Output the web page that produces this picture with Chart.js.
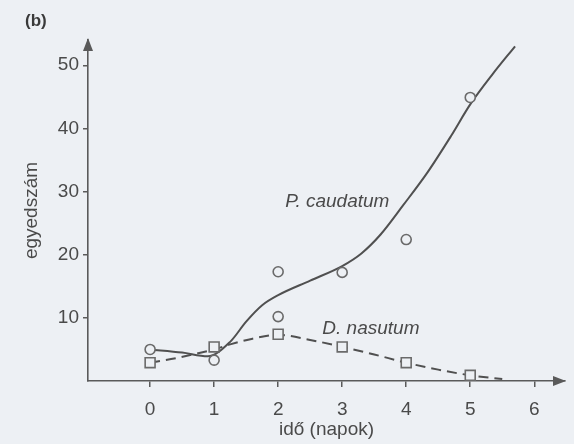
<!DOCTYPE html>
<html>
<head>
<meta charset="utf-8">
<script src="https://cdn.jsdelivr.net/npm/chart.js@4.4.1/dist/chart.umd.min.js"></script>
<style>
  html, body { margin: 0; padding: 0; background: #edf0f4; }
  #wrap { width: 574px; height: 444px; }
</style>
</head>
<body>
<div id="wrap"><canvas id="chart"></canvas></div>
<script>
// data
const xTicks = [0, 1, 2, 3, 4, 5, 6];
const yTicks = [10, 20, 30, 40, 50];

// measured points
const caudatumDay   = [0, 1, 2, 2, 3, 4, 5];
const caudatumCount = [5.0, 3.3, 17.3, 10.2, 17.2, 22.4, 44.9];
const nasutumDay    = [0, 1, 2, 3, 4, 5];
const nasutumCount  = [2.9, 5.4, 7.4, 5.4, 2.9, 0.9];

// fitted curves (traced)
const caudatumFitX = [0, 0.5, 0.9, 1.25, 1.5, 1.75, 2, 2.5, 3, 3.3, 3.6, 3.95, 4.33, 4.7, 5, 5.35, 5.7];
const caudatumFitY = [5.0, 4.5, 3.9, 6.2, 9.4, 12.0, 13.6, 15.9, 18.2, 20.2, 23.2, 27.8, 33.0, 38.8, 43.8, 48.6, 53.0];
const nasutumFitX  = [0, 0.4, 0.75, 1, 1.25, 1.6, 2, 2.5, 3, 3.5, 4, 4.5, 5, 5.5];
const nasutumFitY  = [2.9, 3.6, 4.4, 5.0, 5.8, 6.7, 7.3, 6.5, 5.4, 4.2, 2.9, 1.8, 0.9, 0.3];

// curve labels: [text, x, y]
const seriesLabels = [
  ['P. caudatum', 2.11, 28.4],
  ['D. nasutum', 2.69, 8.2],
];

const C = {
  bg:   '#edf0f4',
  line: '#505050',
  axis: '#5a5a5a',
  text: '#4a4a4a',
};
const FONT = "'Liberation Sans', Arial, sans-serif";

Chart.defaults.font.family = FONT;
Chart.defaults.color = C.text;

const pts = (xs, ys) => xs.map((x, i) => ({ x, y: ys[i] }));

// arrows, panel letter and curve labels
const extras = {
  id: 'extras',
  afterDraw(chart) {
    const { ctx, chartArea: a, scales: { x, y } } = chart;
    ctx.save();
    ctx.fillStyle = C.axis;
    // y arrow
    ctx.beginPath();
    ctx.moveTo(a.left, a.top - 2);
    ctx.lineTo(a.left - 5, a.top + 11);
    ctx.lineTo(a.left + 5, a.top + 11);
    ctx.closePath();
    ctx.fill();
    // x arrow
    ctx.beginPath();
    ctx.moveTo(a.right + 1, a.bottom);
    ctx.lineTo(a.right - 12, a.bottom - 5);
    ctx.lineTo(a.right - 12, a.bottom + 5);
    ctx.closePath();
    ctx.fill();

    ctx.fillStyle = '#3a3a3a';
    ctx.font = 'bold 17px ' + FONT;
    ctx.textBaseline = 'middle';
    ctx.textAlign = 'left';
    ctx.fillText('(b)', 25, 21);

    ctx.fillStyle = C.text;
    ctx.font = 'italic 19px ' + FONT;
    seriesLabels.forEach(([t, lx, ly]) => {
      ctx.fillText(t, x.getPixelForValue(lx), y.getPixelForValue(ly));
    });
    ctx.restore();
  }
};

new Chart(document.getElementById('chart'), {
  type: 'scatter',
  data: {
    datasets: [
      {
        label: 'P. caudatum',
        data: pts(caudatumDay, caudatumCount),
        pointStyle: 'circle', pointRadius: 5,
        borderColor: '#6a6a6a', backgroundColor: C.bg, borderWidth: 1.6,
      },
      {
        label: 'D. nasutum',
        data: pts(nasutumDay, nasutumCount),
        pointStyle: 'rect', pointRadius: 7,
        borderColor: '#6a6a6a', backgroundColor: C.bg, borderWidth: 1.6,
      },
      {
        label: 'P. caudatum fit',
        data: pts(caudatumFitX, caudatumFitY),
        showLine: true, pointRadius: 0,
        borderColor: C.line, borderWidth: 2,
        cubicInterpolationMode: 'monotone',
      },
      {
        label: 'D. nasutum fit',
        data: pts(nasutumFitX, nasutumFitY),
        showLine: true, pointRadius: 0,
        borderColor: C.line, borderWidth: 2, borderDash: [10, 6],
        cubicInterpolationMode: 'monotone',
      },
    ]
  },
  options: {
    responsive: true,
    maintainAspectRatio: false,
    animation: false,
    layout: { padding: { top: 40, right: 9, left: 0, bottom: 0 } },
    plugins: { legend: { display: false }, tooltip: { enabled: false } },
    scales: {
      x: {
        type: 'linear', min: -0.97, max: 6.48,
        afterBuildTicks: s => { s.ticks = xTicks.map(v => ({ value: v })); },
        afterFit: s => { s.height = 63; },
        grid: { drawOnChartArea: false, color: C.axis, lineWidth: 1.5, tickLength: 6 },
        border: { color: C.axis, width: 1.6 },
        ticks: { font: { size: 19 }, padding: 11, color: C.text },
        title: { display: true, text: 'idő (napok)', font: { size: 19 }, color: C.text, padding: { top: 0, bottom: 3 } },
      },
      y: {
        min: 0, max: 54,
        afterBuildTicks: s => { s.ticks = yTicks.map(v => ({ value: v })); },
        afterFit: s => { s.width = 88; },
        grid: { drawOnChartArea: false, color: C.axis, lineWidth: 1.5, tickLength: 5 },
        border: { color: C.axis, width: 1.6 },
        ticks: { font: { size: 19 }, padding: 4, color: C.text },
        title: { display: true, text: 'egyedszám', font: { size: 19 }, color: C.text, padding: { top: 20, bottom: 0 } },
      }
    }
  },
  plugins: [extras]
});
</script>
</body>
</html>
